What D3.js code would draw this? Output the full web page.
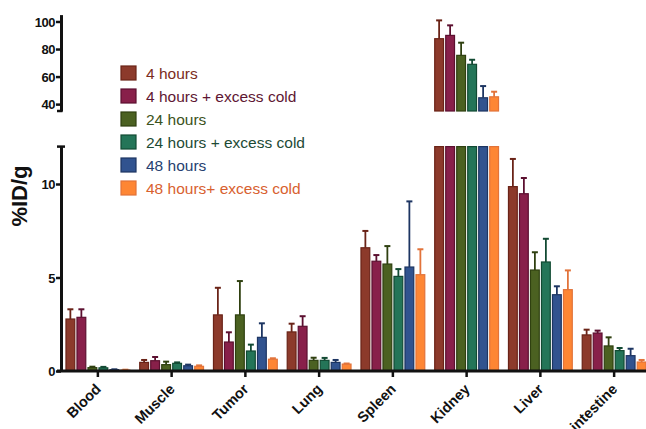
<!DOCTYPE html>
<html lang="en">
<head>
<meta charset="utf-8">
<title>%ID/g biodistribution</title>
<script src="https://cdn.jsdelivr.net/npm/d3@7"></script>
<style>
  body { margin: 0; background: #fff; }
  svg { font-family: "Liberation Sans", Arial, sans-serif; }
  .axis path, .axis line { stroke: #111; fill: none; }
  .axis text { font-weight: bold; fill: #111; }
</style>
</head>
<body>
<script>
// categories and series
var categories = ["Blood", "Muscle", "Tumor", "Lung", "Spleen", "Kidney", "Liver", "intestine"];
var seriesNames = ["4 hours", "4 hours + excess cold", "24 hours", "24 hours + excess cold", "48 hours", "48 hours+ excess cold"];

// means (%ID/g), one array per series, in category order
var h4     = [2.78, 0.46, 3.00, 2.09, 6.59, 87.5, 9.86, 1.93];
var h4Cold  = [2.87, 0.55, 1.55, 2.39, 5.87, 89.9, 9.48, 2.03];
var h24    = [0.18, 0.34, 3.00, 0.57, 5.72, 75.4, 5.40, 1.34];
var h24Cold = [0.17, 0.41, 1.07, 0.57, 5.06, 68.9, 5.83, 1.09];
var h48    = [0.07, 0.28, 1.80, 0.46, 5.56, 44.6, 4.08, 0.82];
var h48Cold = [0.05, 0.25, 0.63, 0.37, 5.15, 45.3, 4.35, 0.48];

// error bars (upper half only)
var h4Err     = [0.52, 0.13, 1.45, 0.44, 0.90, 13.3, 1.48, 0.28];
var h4ColdErr  = [0.43, 0.20, 0.52, 0.54, 0.33, 7.3, 0.84, 0.13];
var h24Err    = [0.05, 0.16, 1.81, 0.14, 0.96, 9.2, 0.95, 0.46];
var h24ColdErr = [0.05, 0.05, 0.34, 0.13, 0.39, 3.3, 1.24, 0.14];
var h48Err    = [0.02, 0.06, 0.75, 0.13, 3.51, 8.5, 0.45, 0.37];
var h48ColdErr = [0.02, 0.05, 0.05, 0.03, 1.36, 3.7, 1.03, 0.11];

// tick labels
var lowTicks = [0, 5, 10];
var highTicks = [40, 60, 80, 100];

var means = [h4, h4Cold, h24, h24Cold, h48, h48Cold];
var errs = [h4Err, h4ColdErr, h24Err, h24ColdErr, h48Err, h48ColdErr];

var fills   = ["#8c3a2b", "#88204a", "#4b6121", "#247558", "#31538f", "#fe8634"];
var strokes = ["#6a2317", "#5c1030", "#2f4010", "#124a33", "#1d3562", "#e2733a"];
var textCol = ["#7b2c1c", "#5e1632", "#3b5220", "#1d4a35", "#263f70", "#d8612f"];

var w = 646, h = 429;
var axisX = 61, baseY = 371;

var svg = d3.select("body").append("svg")
    .attr("width", w)
    .attr("height", h);

// scales: broken y axis, lower 0-12 and upper 35-105
var yLow = d3.scaleLinear().domain([0, 12]).range([baseY, 146.6]);
var yHigh = d3.scaleLinear().domain([35, 105]).range([111, 14.6]);
var breakLow = 12, breakHigh = 35;

var x = d3.scaleBand()
    .domain(categories)
    .range([axisX, 651])
    .paddingInner(0.105)
    .paddingOuter(0.0525);

var xSub = d3.scaleBand()
    .domain(d3.range(seriesNames.length))
    .range([0, x.bandwidth()])
    .paddingInner(0.2)
    .paddingOuter(0.1);

// flatten into bar records
var bars = [];
categories.forEach(function(c, ci) {
  means.forEach(function(arr, si) {
    bars.push({cat: c, s: si, v: arr[ci], e: errs[si][ci]});
  });
});

var barG = svg.append("g");

bars.forEach(function(d) {
  var bx = x(d.cat) + xSub(d.s);
  var bw = xSub.bandwidth();
  var g = barG.append("g");
  var top, errTop;
  if (d.v <= breakLow) {
    g.append("rect")
      .attr("x", bx).attr("y", yLow(d.v))
      .attr("width", bw).attr("height", yLow(0) - yLow(d.v));
    top = yLow(d.v); errTop = yLow(d.v + d.e);
  } else {
    g.append("rect")
      .attr("x", bx).attr("y", yLow(breakLow))
      .attr("width", bw).attr("height", yLow(0) - yLow(breakLow));
    g.append("rect")
      .attr("x", bx).attr("y", yHigh(d.v))
      .attr("width", bw).attr("height", yHigh(breakHigh) - yHigh(d.v));
    top = yHigh(d.v); errTop = yHigh(d.v + d.e);
  }
  g.selectAll("rect")
    .attr("fill", fills[d.s])
    .attr("stroke", strokes[d.s])
    .attr("stroke-width", 1.2);
  var cx = bx + bw / 2;
  g.append("line")
    .attr("x1", cx).attr("x2", cx)
    .attr("y1", top).attr("y2", errTop)
    .attr("stroke", strokes[d.s]).attr("stroke-width", 1.8);
  g.append("line")
    .attr("x1", cx - 3).attr("x2", cx + 3)
    .attr("y1", errTop).attr("y2", errTop)
    .attr("stroke", strokes[d.s]).attr("stroke-width", 2);
});

// y axes
var yAxisLow = d3.axisLeft(yLow).tickValues(lowTicks).tickSize(5).tickSizeOuter(0);
var yAxisHigh = d3.axisLeft(yHigh).tickValues(highTicks).tickSize(5).tickSizeOuter(0);

var gLow = svg.append("g")
    .attr("class", "axis")
    .attr("transform", "translate(" + axisX + ",0)")
    .call(yAxisLow);
var gHigh = svg.append("g")
    .attr("class", "axis")
    .attr("transform", "translate(" + axisX + ",0)")
    .call(yAxisHigh);

[gLow, gHigh].forEach(function(g) {
  g.select(".domain").attr("stroke-width", 3);
  g.selectAll(".tick line").attr("stroke-width", 2.5);
  g.selectAll(".tick text")
    .attr("font-size", "13px")
    .attr("x", -6)
    .attr("dy", "0.35em")
    .style("letter-spacing", "-0.5px");
});

// break caps
svg.append("line")
  .attr("x1", axisX - 4).attr("x2", axisX + 4)
  .attr("y1", yLow(breakLow)).attr("y2", yLow(breakLow))
  .attr("stroke", "#111").attr("stroke-width", 2.5);
svg.append("line")
  .attr("x1", axisX - 4).attr("x2", axisX + 1.5)
  .attr("y1", yHigh(breakHigh)).attr("y2", yHigh(breakHigh))
  .attr("stroke", "#111").attr("stroke-width", 2.5);

// x axis
var xAxis = d3.axisBottom(x).tickSize(6).tickSizeOuter(0);
var gx = svg.append("g")
    .attr("class", "axis")
    .attr("transform", "translate(0," + baseY + ")")
    .call(xAxis);
gx.select(".domain").attr("stroke-width", 3).attr("d", "M" + (axisX - 4) + ",0H651");
gx.selectAll(".tick line").attr("stroke-width", 2.5);
gx.selectAll(".tick text")
  .attr("font-size", "14.5px")
  .attr("text-anchor", "end")
  .attr("transform", "translate(4,19) rotate(-45)")
  .attr("x", 0).attr("y", 0).attr("dy", 0);

// y label
svg.append("text")
  .attr("transform", "translate(27,196) rotate(-90)")
  .attr("text-anchor", "middle")
  .attr("font-size", "22px")
  .attr("font-weight", "bold")
  .attr("fill", "#111")
  .text("%ID/g");

// legend
var legend = svg.append("g").attr("transform", "translate(121,73)");
var items = legend.selectAll("g")
  .data(seriesNames)
  .enter()
  .append("g")
  .attr("transform", function(d, i) { return "translate(0," + (i * 23) + ")"; });
items.append("rect")
  .attr("x", 0).attr("y", -7)
  .attr("width", 15).attr("height", 14)
  .attr("fill", function(d, i) { return fills[i]; })
  .attr("stroke", function(d, i) { return strokes[i]; })
  .attr("stroke-width", 1.2);
items.append("text")
  .attr("x", 25).attr("y", 0).attr("dy", "0.36em")
  .attr("font-size", "15.5px")
  .attr("fill", function(d, i) { return textCol[i]; })
  .text(function(d) { return d; });
</script>
</body>
</html>
